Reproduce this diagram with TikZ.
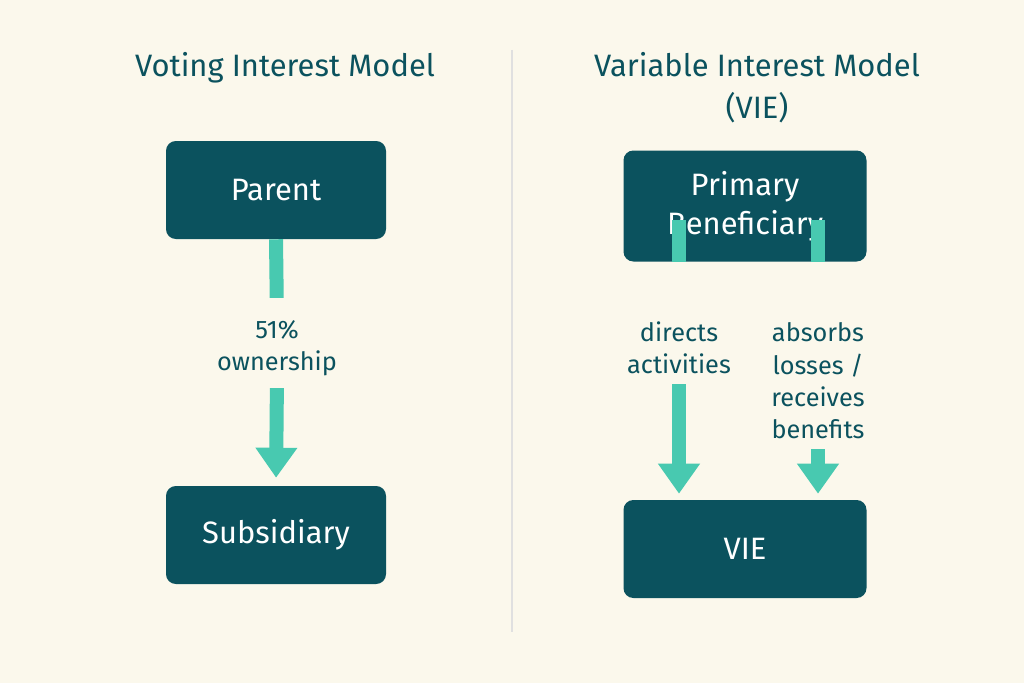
\documentclass[tikz,border=0pt]{standalone}
\usepackage{fontspec}
\setmainfont{Fira Sans}
\usetikzlibrary{arrows.meta,positioning}
\definecolor{cream}{HTML}{FBF8EC}
\definecolor{deepteal}{HTML}{0B525E}
\definecolor{mint}{HTML}{48C9B0}
\newcommand{\pxu}{0.025cm}

\begin{document}
\begin{tikzpicture}[x=\pxu, y=-\pxu,
    BoxStyle/.style = {draw=none, fill=deepteal, rounded corners=7pt, text=white,
                       minimum width=220*\pxu, minimum height=98*\pxu, font=\fontsize{22}{26}\selectfont},
    TitleStyle/.style = {text=deepteal, align=center, font=\fontsize{22}{30}\selectfont},
    NoteStyle/.style = {text=deepteal, align=center, font=\fontsize{18}{23}\selectfont, inner sep=0pt},
    LinkStyle/.style = {draw=mint, line width=14*\pxu},
    ArrowStyle/.style = {LinkStyle, -{Triangle[width=40*\pxu, length=30*\pxu]}}]
                %\draw[help lines] (0,0) grid (1024,683);
                \fill[cream] (0,0) rectangle (1024,683);
                \useasboundingbox (0,0) rectangle (1024,683);
                \draw[black!12, line width=1.2pt] (512,50) -- (512,632);

                % left side
                \node[TitleStyle] (tl) at (285,68) {Voting Interest Model};
                \node[BoxStyle] (parent) at (276,190) {Parent};
                \node[NoteStyle] (own) at (277,348) {51\%\\ownership};
                \node[BoxStyle] (sub) at (276,535) {Subsidiary};
                \draw[LinkStyle, shorten >=22*\pxu] (parent.south) -- (own.north);
                \draw[ArrowStyle, shorten <=12*\pxu, shorten >=8*\pxu] (own.south) -- (sub.north);

                % right side
                \node[TitleStyle] (tr) at (757,88) {Variable Interest Model\\(VIE)};
                \node[BoxStyle, minimum width=243*\pxu, minimum height=111*\pxu, align=center,
                      font=\fontsize{22}{28}\selectfont] (pb) at (745,206) {Primary\\Beneficiary};
                \node[NoteStyle] (dir) at (679,348) {directs\\activities};
                \node[NoteStyle] (abs) at (818,381) {absorbs\\losses /\\receives\\benefits};
                \node[BoxStyle, minimum width=243*\pxu] (vie) at (745,549) {VIE};
                \coordinate (dirtop) at (pb.south -| dir);
                \coordinate (abstop) at (pb.south -| abs);
                \draw[LinkStyle] (dirtop) -- ++(0,-42);
                \draw[LinkStyle] (abstop) -- ++(0,-42);
                \draw[ArrowStyle, shorten <=10*\pxu, shorten >=6*\pxu] (dir.south) -- (vie.north -| dir);
                \draw[ArrowStyle, shorten <=10*\pxu, shorten >=6*\pxu] (abs.south) -- (vie.north -| abs);
\end{tikzpicture}
\end{document}
